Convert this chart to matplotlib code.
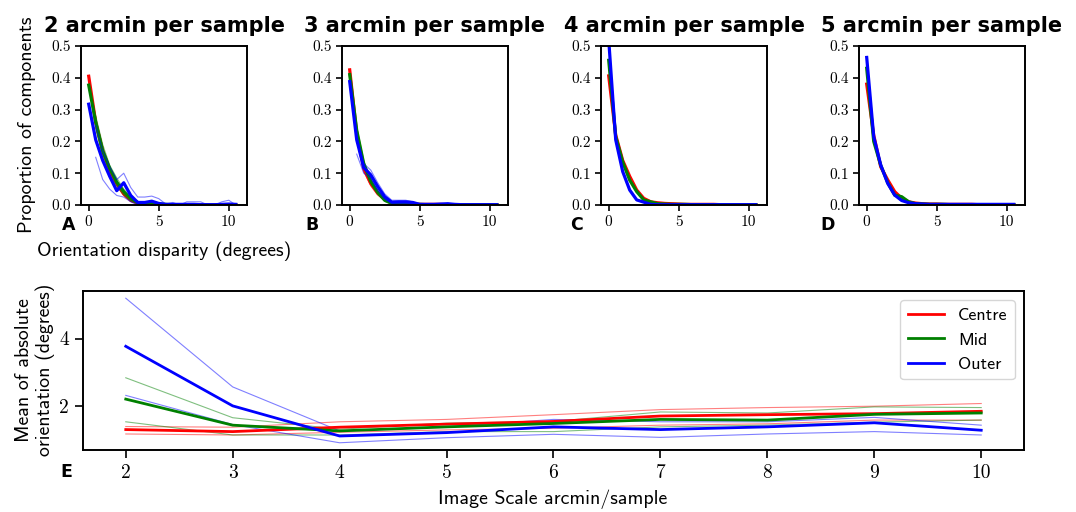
import numpy as np
import matplotlib
matplotlib.use("Agg")
import matplotlib.pyplot as plt

nan = np.nan

# ---------------- data ----------------
disparity = [0, 0.5, 1, 1.5, 2, 2.5, 3, 3.5, 4, 4.5, 5, 5.5, 6, 6.5, 7, 7.5,
             8, 8.5, 9, 9.5, 10, 10.5]

panel_titles = ["2 arcmin per sample", "3 arcmin per sample",
                "4 arcmin per sample", "5 arcmin per sample"]
panel_letters = ["A", "B", "C", "D"]

# Panel A (2 arcmin)
A_centre = [0.405, 0.26, 0.17, 0.11, 0.068, 0.035, 0.015, 0.006, 0.004, 0.003, 0.002,
            0.001, 0.001, 0.001, 0, 0, 0, 0, 0, 0, 0, 0]
A_centre_hi = [nan, 0.27, 0.18, 0.12, 0.075, 0.042, 0.02, 0.009, 0.006, 0.005, 0.003,
               0.002, 0.001, 0.001, 0, 0, 0, 0, 0, 0, 0, 0]
A_centre_lo = [nan, 0.25, 0.16, 0.10, 0.06, 0.03, 0.011, 0.004, 0.002, 0.002, 0.001,
               0, 0, 0, 0, 0, 0, 0, 0, 0, 0, 0]
A_mid = [0.377, 0.26, 0.17, 0.115, 0.072, 0.042, 0.02, 0.008, 0.006, 0.008, 0.003,
         0.002, 0.001, 0.001, 0, 0, 0, 0, 0, 0, 0, 0]
A_mid_hi = [nan, 0.28, 0.19, 0.125, 0.085, 0.05, 0.025, 0.01, 0.008, 0.01, 0.005,
            0.002, 0.001, 0, 0, 0, 0, 0, 0, 0, 0, 0]
A_mid_lo = [nan, 0.24, 0.15, 0.095, 0.06, 0.032, 0.012, 0.004, 0.003, 0.004, 0.001,
            0, 0, 0, 0, 0, 0, 0, 0, 0, 0, 0]
A_outer = [0.317, 0.205, 0.14, 0.09, 0.045, 0.07, 0.03, 0.008, 0.008, 0.012, 0.005,
           0.002, 0.002, 0.002, 0.002, 0.002, 0.001, 0.001, 0.001, 0.002, 0.003, 0.002]
A_outer_hi = [nan, 0.25, 0.17, 0.12, 0.08, 0.10, 0.055, 0.025, 0.025, 0.028, 0.02,
              0.003, 0.008, 0.0, 0.01, 0.01, 0.01, 0.0, 0.0, 0.01, 0.015, 0.0]
A_outer_lo = [nan, 0.15, 0.08, 0.05, 0.03, 0.025, 0.01, 0, 0, 0, 0,
              0, 0, 0, 0, 0, 0, 0, 0, 0, 0, 0]

# Panel B (3 arcmin)
B_centre = [0.425, 0.225, 0.115, 0.068, 0.037, 0.018, 0.007, 0.003, 0.003, 0.003, 0.002,
            0.002, 0.002, 0.002, 0.001, 0.001, 0.001, 0.001, 0.001, 0.001, 0.001, 0.001]
B_centre_hi = [nan, 0.235, 0.125, 0.075, 0.043, 0.022, 0.01, 0.005, 0.004, 0.004, 0.003,
               0.003, 0.002, 0.002, 0.002, 0.001, 0.001, 0.001, 0.001, 0.001, 0.001, 0.001]
B_centre_lo = [nan, 0.215, 0.105, 0.06, 0.031, 0.014, 0.004, 0.001, 0.001, 0.001, 0.001,
               0, 0, 0, 0, 0, 0, 0, 0, 0, 0, 0]
B_mid = [0.41, 0.235, 0.13, 0.075, 0.04, 0.015, 0.005, 0.003, 0.003, 0.002, 0.002,
         0.001, 0.001, 0.001, 0.001, 0.001, 0.001, 0.001, 0.001, 0.001, 0.001, 0.001]
B_mid_hi = [nan, 0.245, 0.14, 0.082, 0.046, 0.02, 0.008, 0.004, 0.004, 0.003, 0.002,
            0.002, 0.001, 0.001, 0.001, 0.001, 0.001, 0.001, 0.001, 0.001, 0.001, 0.001]
B_mid_lo = [nan, 0.225, 0.12, 0.068, 0.034, 0.011, 0.003, 0.001, 0.001, 0.001, 0.001,
            0, 0, 0, 0, 0, 0, 0, 0, 0, 0, 0]
B_outer = [0.388, 0.205, 0.118, 0.095, 0.058, 0.026, 0.009, 0.01, 0.01, 0.008, 0.002,
           0.002, 0.002, 0.003, 0.004, 0.002, 0.001, 0.001, 0.001, 0.001, 0.001, 0.001]
B_outer_hi = [nan, 0.22, 0.13, 0.11, 0.07, 0.035, 0.015, 0.015, 0.015, 0.01, 0.002,
              0.002, 0.003, 0.004, 0.005, 0.003, 0.002, 0.001, 0.001, 0.001, 0.001, 0.001]
B_outer_lo = [nan, 0.16, 0.10, 0.085, 0.045, 0.018, 0.005, 0.005, 0.005, 0.004, 0.001,
              0.001, 0.001, 0.001, 0.002, 0.001, 0, 0, 0, 0, 0, 0]

# Panel C (4 arcmin)
C_centre = [0.406, 0.22, 0.14, 0.09, 0.047, 0.021, 0.01, 0.007, 0.005, 0.004, 0.003,
            0.002, 0.002, 0.002, 0.002, 0.002, 0.001, 0.001, 0.001, 0.001, 0.001, 0.001]
C_mid = [0.455, 0.215, 0.135, 0.078, 0.042, 0.016, 0.01, 0.004, 0.003, 0.002, 0.002,
         0.002, 0.001, 0.001, 0.001, 0.001, 0.001, 0.001, 0.001, 0.001, 0.001, 0.001]
C_outer = [0.52, 0.205, 0.105, 0.047, 0.016, 0.009, 0.002, 0.001, 0.001, 0.001, 0.001,
           0.001, 0.001, 0.001, 0.001, 0.001, 0.001, 0.001, 0.001, 0.001, 0.001, 0.001]

# Panel D (5 arcmin)
D_centre = [0.38, 0.22, 0.12, 0.079, 0.042, 0.021, 0.01, 0.006, 0.004, 0.003, 0.003,
            0.002, 0.002, 0.002, 0.002, 0.002, 0.001, 0.001, 0.001, 0.001, 0.001, 0.001]
D_mid = [0.43, 0.20, 0.125, 0.07, 0.031, 0.026, 0.01, 0.004, 0.003, 0.002, 0.002,
         0.002, 0.001, 0.001, 0.001, 0.001, 0.001, 0.001, 0.001, 0.001, 0.001, 0.001]
D_outer = [0.464, 0.215, 0.126, 0.068, 0.031, 0.014, 0.007, 0.004, 0.003, 0.002, 0.002,
           0.002, 0.002, 0.002, 0.002, 0.002, 0.002, 0.002, 0.002, 0.002, 0.002, 0.002]

# Panel E
image_scale = [2, 3, 4, 5, 6, 7, 8, 9, 10]
centre_mean = [1.31, 1.25, 1.38, 1.47, 1.55, 1.71, 1.75, 1.78, 1.85]
centre_hi = [1.40, 1.38, 1.54, 1.61, 1.75, 1.90, 1.96, 2.00, 2.08]
centre_lo = [1.18, 1.15, 1.23, 1.30, 1.35, 1.44, 1.48, 1.59, 1.59]
mid_mean = [2.21, 1.44, 1.27, 1.39, 1.49, 1.61, 1.59, 1.76, 1.80]
mid_hi = [2.84, 1.66, 1.32, 1.50, 1.55, 1.83, 1.80, 1.98, 1.96]
mid_lo = [1.54, 1.15, 1.15, 1.25, 1.25, 1.39, 1.44, 1.53, 1.59]
outer_mean = [3.77, 2.01, 1.12, 1.22, 1.39, 1.31, 1.39, 1.51, 1.29]
outer_hi = [5.19, 2.57, 1.27, 1.39, 1.61, 1.54, 1.54, 1.67, 1.44]
outer_lo = [2.32, 1.46, 0.92, 1.07, 1.17, 1.08, 1.18, 1.25, 1.15]

region_names = ["Centre", "Mid", "Outer"]
region_colors = ["r", "g", "b"]

top_means = [
    [A_centre, A_mid, A_outer],
    [B_centre, B_mid, B_outer],
    [C_centre, C_mid, C_outer],
    [D_centre, D_mid, D_outer],
]
top_bands = [
    [[A_centre_hi, A_centre_lo], [A_mid_hi, A_mid_lo], [A_outer_hi, A_outer_lo]],
    [[B_centre_hi, B_centre_lo], [B_mid_hi, B_mid_lo], [B_outer_hi, B_outer_lo]],
    None,
    None,
]

# ---------------- style ----------------
plt.rcParams["font.family"] = ["cmss10", "DejaVu Sans"]
plt.rcParams["axes.unicode_minus"] = False
plt.rcParams["axes.formatter.use_mathtext"] = True

W, H = 1076, 512
fig = plt.figure(figsize=(W / 100, H / 100), dpi=100)


def rect(l, t, r, b):
    return [l / W, 1 - b / H, (r - l) / W, (b - t) / H]


def style_axes(ax, tick_len, tick_size, pad):
    for s in ax.spines.values():
        s.set_linewidth(1.4)
        s.set_color("black")
    ax.tick_params(direction="out", length=tick_len, width=1.2, top=False, right=False,
                   labelsize=tick_size, labelfontfamily="cmr10", pad=pad, colors="black")


top_lefts = [81, 342, 601, 859]
letter_x = [62, 305, 570, 820]
x = np.array(disparity, dtype=float)
bold_family = ["DejaVu Sans"]

for i in range(4):
    l = top_lefts[i]
    ax = fig.add_axes(rect(l, 46, l + 166, 205))
    bands = top_bands[i]
    for j in range(3):
        if bands is not None:
            for band in bands[j]:
                ax.plot(x, np.array(band, dtype=float), color=region_colors[j], lw=0.8, alpha=0.5)
        ax.plot(x, top_means[i][j], color=region_colors[j], lw=2.3)
    ax.set_xlim(-0.55, 11.3)
    ax.set_ylim(0, 0.5)
    ax.set_xticks([0, 5, 10])
    ax.set_yticks([0, 0.1, 0.2, 0.3, 0.4, 0.5])
    ax.set_xticklabels(["0", "5", "10"])
    ax.set_yticklabels(["0.0", "0.1", "0.2", "0.3", "0.4", "0.5"])
    style_axes(ax, 4, 11, 3.5)
    fig.text((l + 83) / W, 1 - 32 / H, panel_titles[i], ha="center", va="baseline",
             fontsize=15, fontweight="bold", family=bold_family)
    fig.text(letter_x[i] / W, 1 - 230 / H, panel_letters[i], ha="left", va="baseline",
             fontsize=12.5, fontweight="bold", family=bold_family)

fig.text(27 / W, 1 - 125 / H, "Proportion of components", rotation=90,
         ha="center", va="center", fontsize=14.3)
fig.text(164 / W, 1 - 256 / H, "Orientation disparity (degrees)",
         ha="center", va="baseline", fontsize=14.3)

# bottom panel
axE = fig.add_axes(rect(83, 291, 1024, 450))
bottom_means = [centre_mean, mid_mean, outer_mean]
bottom_bands = [[centre_hi, centre_lo], [mid_hi, mid_lo], [outer_hi, outer_lo]]
for j in range(3):
    for band in bottom_bands[j]:
        axE.plot(image_scale, band, color=region_colors[j], lw=0.8, alpha=0.5)
for j in range(3):
    axE.plot(image_scale, bottom_means[j], color=region_colors[j], lw=2, label=region_names[j])
axE.set_xticks(image_scale)
axE.set_xticklabels([str(v) for v in image_scale])
axE.set_yticks([2, 4])
axE.set_yticklabels(["2", "4"])
style_axes(axE, 6, 14, 4)
axE.legend(loc="upper right", fontsize=13)

fig.text(60 / W, 1 - 477 / H, "E", ha="left", va="baseline",
         fontsize=12.5, fontweight="bold", family=bold_family)
fig.text(35 / W, 1 - 370 / H, "Mean of absolute\norientation (degrees)", rotation=90,
         ha="center", va="center", multialignment="center", fontsize=14.3)
fig.text(553 / W, 1 - 504 / H, "Image Scale arcmin/sample", ha="center", va="baseline",
         fontsize=14.3)

fig.savefig("out.png", dpi=100)
